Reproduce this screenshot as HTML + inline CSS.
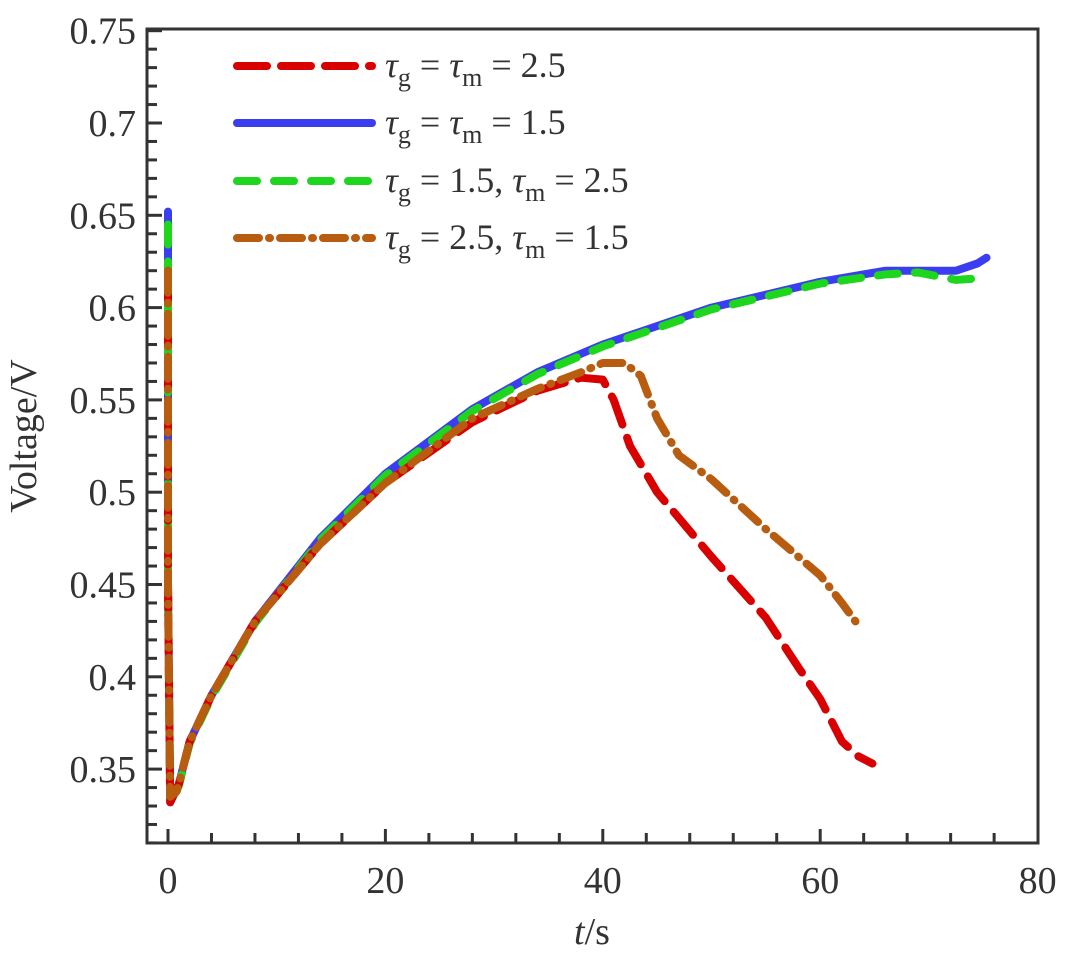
<!DOCTYPE html>
<html><head><style>
body{margin:0;background:#fff}
svg{font-family:"Liberation Serif",serif;fill:#333}
</style></head><body>
<svg id="s" width="1080" height="950" xmlns="http://www.w3.org/2000/svg">
<g id="curves" fill="none" stroke-linecap="round" stroke-linejoin="round"></g>
<rect x="147" y="29" width="891" height="814" fill="none" stroke="#333" stroke-width="3"/>
<g id="ticks" stroke="#333" stroke-width="3"></g>
<g id="labels" font-size="38" fill="#333"></g>
<text x="592" y="944" font-size="38" text-anchor="middle" fill="#333"><tspan font-style="italic">t</tspan>/s</text>
<text transform="translate(36,436) rotate(-90)" font-size="38" text-anchor="middle" fill="#333">Voltage/V</text>
<g id="legend"></g>
</svg>
<script>
const X=t=>168+10.87*t, Y=v=>123+(0.7-v)*1846;
const ns="http://www.w3.org/2000/svg";
function el(p,tag,a,txt){const e=document.createElementNS(ns,tag);for(const k in a)e.setAttribute(k,a[k]);if(txt!=null)e.innerHTML=txt;p.appendChild(e);return e;}
const tk=document.getElementById('ticks'),lb=document.getElementById('labels');
for(let i=0;i<=20;i++){const x=X(i*4);if(x>1036)break;el(tk,'line',{x1:x,y1:843,x2:x,y2:i%5==0?829:833});}
[0,20,40,60,80].forEach(t=>el(lb,'text',{x:X(t),y:893,'text-anchor':'middle'},t));
for(let i=0;i<=44;i++){const v=0.31+i*0.01;const y=Y(v);if(y<30)break;const maj=Math.abs(v*100%5)<0.01||Math.abs(v*100%5-5)<0.01;el(tk,'line',{x1:147,y1:y,x2:maj?162:157,y2:y});}
['0.35','0.4','0.45','0.5','0.55','0.6','0.65','0.7','0.75'].forEach(s=>el(lb,'text',{x:136,y:Y(+s)+13,'text-anchor':'end'},s));
const base=[[0.2,0.332],[1,0.342],[2,0.365],[4,0.39],[8,0.43],[14,0.475],[20,0.51],[28,0.545],[34,0.565],[40,0.58]];
const blue=[[0,0.652],[0,0.45],...base,[50,0.60],[60,0.614],[66,0.62],[72.5,0.62],[74.5,0.624],[75.3,0.627]];
const green=[[0,0.645],[0,0.45],...base.map(p=>[p[0],p[1]-0.001]),[50,0.599],[60,0.613],[66,0.618],[69,0.619],[72.5,0.615],[75,0.616]];
const red=[[0,0.62],[0,0.45],[0.2,0.332],[1,0.342],[2,0.365],[4,0.39],[8,0.43],[14,0.472],[20,0.505],[28,0.538],[34,0.555],[38,0.562],[40,0.561],[41,0.55],[42.5,0.525],[45,0.5],[50,0.465],[55,0.432],[58,0.405],[60,0.388],[62,0.365],[63.5,0.357],[64.8,0.353]];
const brown=[[0,0.62],[0,0.45],[0.2,0.335],[0.8,0.338],[1,0.342],[2,0.365],[4,0.39],[8,0.43],[14,0.472],[20,0.505],[28,0.54],[34,0.556],[38,0.565],[40,0.57],[42,0.57],[43.5,0.563],[45,0.54],[47,0.52],[50,0.507],[55,0.48],[60,0.455],[62,0.44],[63.5,0.428]];
const cv=document.getElementById('curves');
const pth=pts=>'M'+pts.map(p=>X(p[0]).toFixed(1)+','+Y(p[1]).toFixed(1)).join('L');
const st={blue:{stroke:'#3b3ef0','stroke-width':8},green:{stroke:'#1fd61f','stroke-width':8,'stroke-dasharray':'20 17'},red:{stroke:'#d90000','stroke-width':8,'stroke-dasharray':'30 14'},brown:{stroke:'#b85c10','stroke-width':8,'stroke-dasharray':'22 10 1 10'}};
el(cv,'path',Object.assign({d:pth(blue)},st.blue));
el(cv,'path',Object.assign({d:pth(green)},st.green));
el(cv,'path',Object.assign({d:pth(red)},st.red));
el(cv,'path',Object.assign({d:pth(brown)},st.brown));
const lg=document.getElementById('legend');
const T=(a,b)=>'<tspan font-style="italic">τ</tspan><tspan font-size="26" dy="9">g</tspan><tspan dy="-9"> = '+a+'</tspan><tspan font-style="italic">τ</tspan><tspan font-size="26" dy="9">m</tspan><tspan dy="-9"> = '+b+'</tspan>';
const rows=[['red',T('','2.5')],['blue',T('','1.5')],['green',T('1.5, ','2.5')],['brown',T('2.5, ','1.5')]];
const ys=[66,123,181,238];
rows.forEach((r,i)=>{el(lg,'line',Object.assign({x1:237,x2:372,y1:ys[i],y2:ys[i],'stroke-linecap':'round'},st[r[0]]));el(lg,'text',{x:385,y:ys[i]+11,'font-size':36,fill:'#333'},r[1]);});
</script>
</body></html>
